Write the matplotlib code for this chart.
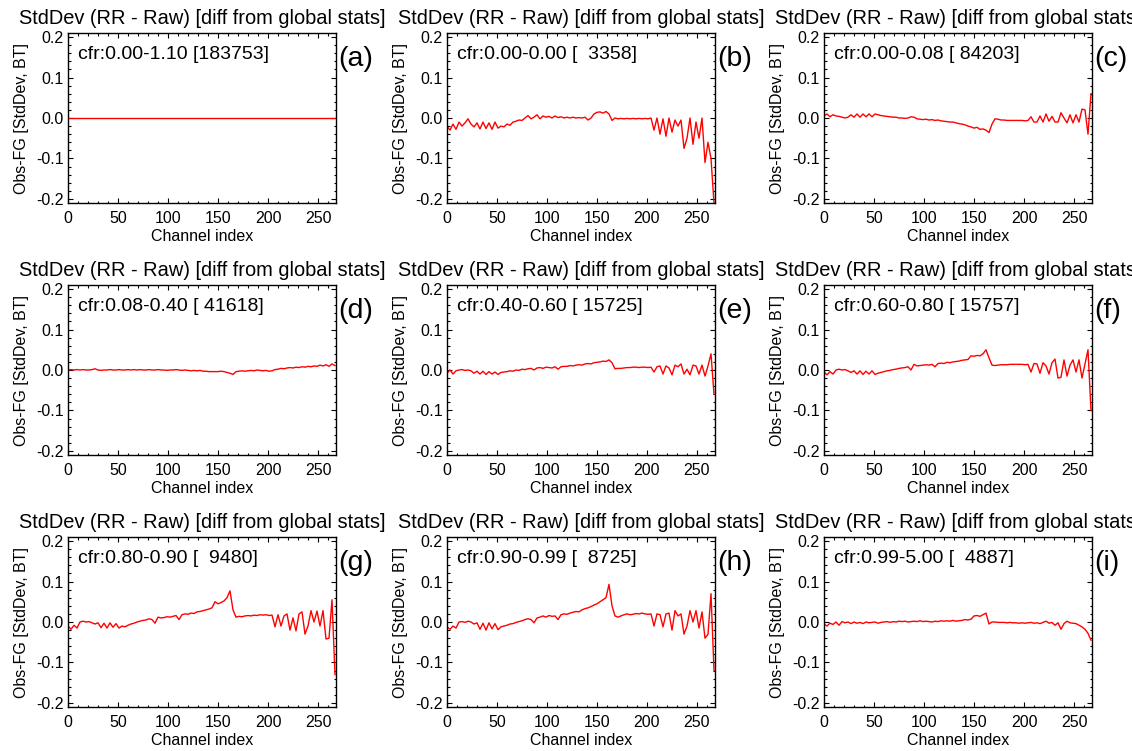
import numpy as np
import matplotlib
matplotlib.use("Agg")
import matplotlib.pyplot as plt
from matplotlib.ticker import MultipleLocator

plt.rcParams["font.family"] = ["Liberation Sans", "DejaVu Sans"]

# channel index, sampled every 3rd channel
channels = np.arange(0, 269, 3)

title = "StdDev (RR - Raw) [diff from global stats]"
letters = ["(a)", "(b)", "(c)", "(d)", "(e)", "(f)", "(g)", "(h)", "(i)"]
cfr_labels = [
    "cfr:0.00-1.10 [183753]",
    "cfr:0.00-0.00 [  3358]",
    "cfr:0.00-0.08 [ 84203]",
    "cfr:0.08-0.40 [ 41618]",
    "cfr:0.40-0.60 [ 15725]",
    "cfr:0.60-0.80 [ 15757]",
    "cfr:0.80-0.90 [  9480]",
    "cfr:0.90-0.99 [  8725]",
    "cfr:0.99-5.00 [  4887]",
]

# stddev differences (BT), one value per sampled channel
std_a = [0.0] * 90

std_b = [
    -0.02, -0.03, -0.015, -0.028, -0.01, -0.02, -0.012, -0.002, -0.015, -0.022,
    -0.012, -0.027, -0.01, -0.026, -0.012, -0.028, -0.01, -0.025, -0.02, -0.022,
    -0.015, -0.018, -0.01, -0.008, -0.005, -0.006, 0.0, 0.006, -0.002, 0.002,
    0.008, -0.002, 0.005, 0.002, 0.004, 0.0, 0.005, 0.001, 0.003, 0.0,
    0.002, 0.0, 0.002, 0.0, 0.001, 0.0, 0.002, -0.005, 0.0, 0.01,
    0.014, 0.015, 0.012, 0.016, 0.01, -0.006, 0.0, -0.002, -0.001, -0.002,
    -0.001, -0.002, -0.001, -0.002, -0.001, -0.002, -0.001, -0.002, 0.0, -0.03,
    0.0, -0.04, -0.002, -0.045, 0.0, -0.035, -0.005, -0.02, -0.005, -0.075,
    -0.05, 0.0, -0.065, -0.01, -0.05, 0.0, -0.11, -0.06, -0.1, -0.21,
]

std_c = [
    0.005, 0.01, 0.003, 0.008, 0.005, 0.004, 0.002, 0.0, 0.002, 0.008,
    0.002, 0.01, 0.002, 0.01, 0.003, 0.01, 0.003, 0.01, 0.008, 0.006,
    0.005, 0.004, 0.003, 0.002, 0.002, 0.0, 0.0, -0.001, 0.0, 0.003,
    0.002, -0.002, -0.003, -0.004, -0.003, -0.005, -0.004, -0.006, -0.005, -0.007,
    -0.008, -0.009, -0.01, -0.01, -0.012, -0.014, -0.015, -0.017, -0.02, -0.022,
    -0.025, -0.023, -0.028, -0.027, -0.03, -0.036, -0.015, -0.002, -0.003, -0.005,
    -0.005, -0.006, -0.006, -0.006, -0.006, -0.006, -0.006, -0.007, -0.006, 0.003,
    -0.01, -0.01, 0.005, -0.01, 0.01, -0.008, 0.004, -0.01, -0.01, 0.013,
    0.0, -0.012, 0.008, -0.012, 0.008, -0.01, 0.022, 0.02, -0.04, 0.06,
]

std_d = [
    0.0, 0.001, 0.0, 0.001, 0.0, 0.001, 0.0, 0.0, 0.001, 0.003,
    0.0, -0.001, 0.0, 0.0, 0.001, 0.0, 0.0, 0.001, 0.0, 0.0,
    0.001, 0.0, 0.001, 0.0, 0.001, 0.0, 0.0, 0.001, 0.0, 0.0,
    0.001, 0.0, 0.0, -0.001, 0.0, 0.0, 0.001, 0.0, -0.001, 0.0,
    -0.001, -0.002, -0.001, -0.002, -0.001, -0.003, -0.003, -0.004, -0.004, -0.004,
    -0.004, -0.003, -0.004, -0.006, -0.008, -0.011, -0.004, -0.003, -0.002, -0.003,
    -0.002, -0.001, -0.002, 0.0, -0.001, -0.002, -0.001, -0.003, -0.002, 0.001,
    0.002, 0.004, 0.003, 0.005, 0.006, 0.005, 0.007, 0.006, 0.008, 0.007,
    0.009, 0.008, 0.01, 0.009, 0.012, 0.01, 0.013, 0.009, 0.015, 0.011,
]

std_e = [
    -0.008, 0.0, -0.01, -0.002, 0.0, 0.001, -0.001, 0.0, -0.002, -0.008,
    -0.003, -0.01, -0.003, -0.011, -0.004, -0.01, -0.005, -0.011, -0.006, -0.005,
    -0.004, -0.002, -0.003, 0.0, -0.001, 0.002, 0.001, 0.003, 0.004, 0.0,
    0.005, 0.006, 0.004, 0.007, 0.006, 0.005, 0.008, 0.002, 0.008, 0.009,
    0.009, 0.011, 0.01, 0.012, 0.013, 0.012, 0.015, 0.016, 0.015, 0.018,
    0.019, 0.02, 0.022, 0.021, 0.025, 0.018, 0.003, 0.004, 0.004, 0.005,
    0.006, 0.006, 0.007, 0.007, 0.006, 0.007, 0.007, 0.006, 0.007, -0.005,
    0.008, 0.01, -0.01, 0.01, 0.005, -0.012, 0.012, 0.008, 0.015, -0.01,
    0.002, -0.012, 0.012, 0.01, -0.01, 0.012, -0.015, 0.01, 0.04, -0.06,
]

std_f = [
    -0.005, -0.012, -0.004, -0.01, 0.0, 0.002, 0.0, 0.001, -0.002, -0.006,
    -0.002, -0.01, -0.002, -0.011, -0.003, -0.01, -0.002, -0.011, -0.008, -0.006,
    -0.004, -0.002, -0.001, 0.001, 0.002, 0.004, 0.005, 0.006, 0.008, 0.0,
    0.014, 0.01, 0.011, 0.012, 0.013, 0.012, 0.014, 0.008, 0.016, 0.017,
    0.016, 0.019, 0.018, 0.02, 0.021, 0.022, 0.024, 0.025, 0.026, 0.035,
    0.034, 0.036, 0.035, 0.04, 0.05, 0.03, 0.012, 0.011, 0.012, 0.013,
    0.013, 0.013, 0.014, 0.014, 0.014, 0.014, 0.014, 0.013, 0.014, -0.005,
    0.016, 0.015, -0.008, 0.018, 0.01, -0.01, 0.018, 0.027, -0.02, -0.018,
    0.025, -0.015, 0.012, 0.025, -0.005, 0.025, -0.02, 0.015, 0.05, -0.1,
]

std_g = [
    -0.01, -0.018, -0.008, -0.015, 0.0, 0.002, 0.0, 0.001, -0.002, -0.005,
    -0.002, -0.014, -0.003, -0.015, -0.002, -0.013, -0.004, -0.015, -0.01, -0.012,
    -0.008, -0.005, -0.003, 0.0, 0.002, 0.004, 0.005, 0.008, 0.006, -0.003,
    0.012, 0.01, 0.011, 0.013, 0.012, 0.014, 0.016, 0.006, 0.018, 0.02,
    0.019, 0.022, 0.021, 0.025, 0.026, 0.028, 0.03, 0.032, 0.035, 0.05,
    0.045, 0.048, 0.052, 0.06, 0.077, 0.03, 0.012, 0.014, 0.013, 0.015,
    0.016, 0.015, 0.017, 0.016, 0.018, 0.017, 0.018, 0.016, 0.017, -0.012,
    0.018, -0.01, 0.015, 0.02, -0.02, 0.01, -0.022, 0.02, 0.025, -0.03,
    -0.01, 0.028, 0.0, 0.027, -0.01, 0.028, -0.042, -0.04, 0.055, -0.13,
]

std_h = [
    -0.012, -0.018, -0.01, -0.015, 0.0, 0.001, -0.001, 0.002, 0.0, -0.005,
    -0.002, -0.018, -0.003, -0.02, -0.002, -0.017, -0.004, -0.019, -0.012, -0.01,
    -0.008, -0.005, -0.004, -0.001, 0.001, 0.003, 0.006, 0.008, 0.006, -0.002,
    0.01, 0.012, 0.015, 0.012, 0.016, 0.014, 0.015, 0.006, 0.018, 0.02,
    0.019, 0.022, 0.024, 0.026, 0.025, 0.03, 0.033, 0.035, 0.038, 0.042,
    0.045, 0.05, 0.055, 0.06, 0.093, 0.04, 0.015, 0.012, 0.015, 0.018,
    0.02, 0.018, 0.019, 0.021, 0.02, 0.022, 0.02, 0.019, 0.02, -0.01,
    0.02, 0.018, -0.012, 0.02, 0.022, -0.02, 0.028, 0.015, 0.02, -0.03,
    -0.01, 0.028, 0.0, 0.028, -0.015, 0.025, -0.04, -0.03, 0.07, -0.12,
]

std_i = [
    -0.005, -0.01, -0.003, -0.006, 0.0, -0.008, 0.001, -0.002, 0.0, -0.004,
    0.0, -0.003, -0.001, -0.004, 0.0, -0.002, -0.001, 0.0, -0.003, -0.001,
    0.0, 0.001, -0.001, 0.001, 0.0, 0.002, 0.001, 0.002, 0.0, 0.001,
    0.002, 0.001, 0.003, 0.001, 0.002, 0.001, 0.0, 0.002, 0.001, 0.003,
    0.002, 0.003, 0.002, 0.004, 0.002, 0.003, 0.004, 0.006, 0.005, 0.007,
    0.015, 0.016, 0.014, 0.018, 0.022, -0.005, 0.0, 0.0, -0.001, -0.001,
    -0.001, -0.002, -0.001, -0.002, -0.002, -0.003, -0.002, -0.003, -0.002, -0.001,
    -0.003, -0.002, -0.004, -0.001, 0.002, -0.003, -0.001, -0.008, -0.002, -0.018,
    -0.004, 0.002, -0.002, -0.003, -0.004, -0.008, -0.012, -0.018, -0.028, -0.045,
]

series = [std_a, std_b, std_c, std_d, std_e, std_f, std_g, std_h, std_i]

W, H = 1132, 751
fig = plt.figure(figsize=(W / 100, H / 100), dpi=100)

col_left = [68, 447, 824]
row_bottom = [203, 455, 707]
ax_w, ax_h = 268, 170

for k in range(9):
    r, c = divmod(k, 3)
    ax = fig.add_axes([col_left[c] / W, 1 - row_bottom[r] / H, ax_w / W, ax_h / H])
    ax.plot(channels, series[k], color="#ff0000", lw=1.0)
    ax.set_xlim(0, 268)
    ax.set_ylim(-0.21, 0.21)
    ax.set_xticks([0, 50, 100, 150, 200, 250])
    ax.set_yticks([-0.2, -0.1, 0.0, 0.1, 0.2])
    ax.set_yticklabels(["-0.2", "-0.1", "0.0", "0.1", "0.2"])
    ax.xaxis.set_minor_locator(MultipleLocator(10))
    ax.yaxis.set_minor_locator(MultipleLocator(0.02))
    ax.tick_params(which="both", direction="in", top=True, right=True,
                   width=0.8, labelsize=11.5)
    ax.tick_params(which="major", length=3.5)
    ax.tick_params(which="minor", length=1.8)
    ax.tick_params(axis="x", pad=6)
    ax.tick_params(axis="y", pad=3)
    for s in ax.spines.values():
        s.set_linewidth(1.0)
    ax.set_title(title, fontsize=14.4, pad=6.5)
    ax.set_xlabel("Channel index", fontsize=11.5, labelpad=2)
    ax.set_ylabel("Obs-FG [StdDev, BT]", fontsize=11.5)
    ax.yaxis.set_label_coords(-0.145, 0.5)
    ax.text(0.037, 0.845, cfr_labels[k], transform=ax.transAxes,
            fontsize=14, ha="left", va="baseline")
    ax.text(1.008, 0.85, letters[k], transform=ax.transAxes,
            fontsize=20.5, ha="left", va="center")

fig.savefig("out.png", dpi=100)
